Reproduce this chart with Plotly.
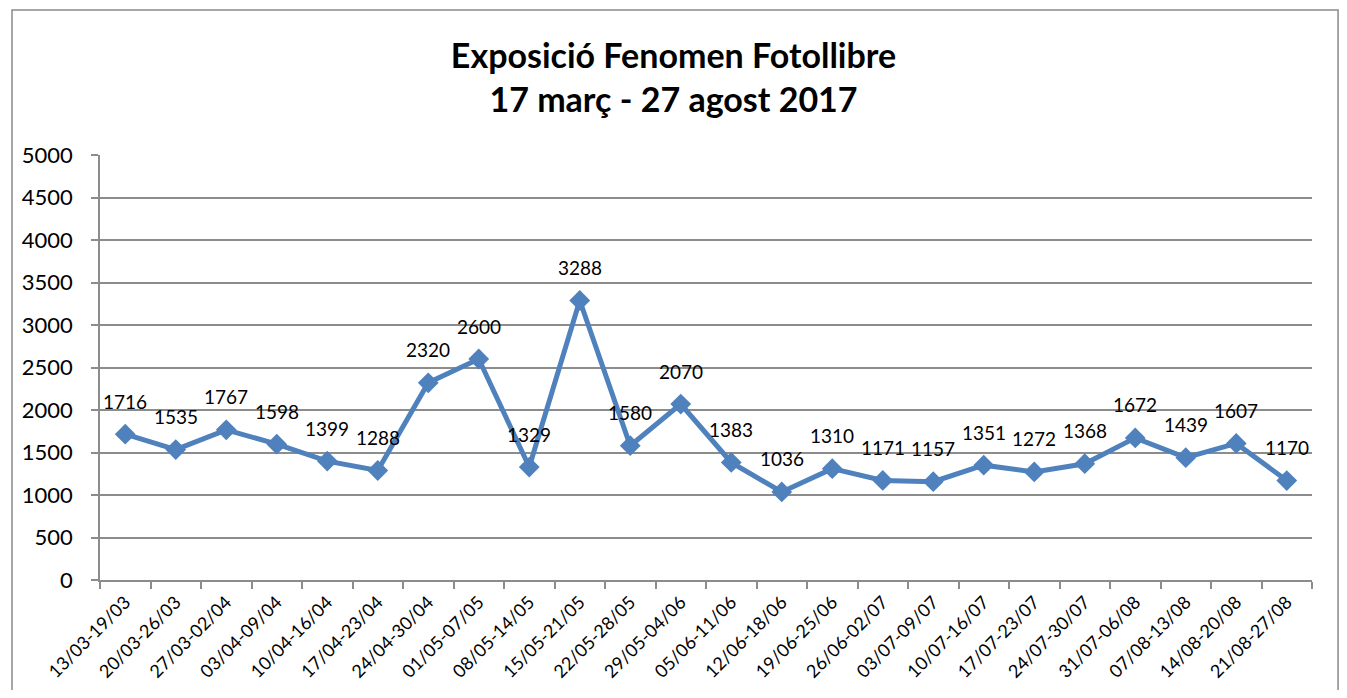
import plotly.graph_objects as go

WEEKS = ['13/03-19/03', '20/03-26/03', '27/03-02/04', '03/04-09/04', '10/04-16/04',
         '17/04-23/04', '24/04-30/04', '01/05-07/05', '08/05-14/05', '15/05-21/05',
         '22/05-28/05', '29/05-04/06', '05/06-11/06', '12/06-18/06', '19/06-25/06',
         '26/06-02/07', '03/07-09/07', '10/07-16/07', '17/07-23/07', '24/07-30/07',
         '31/07-06/08', '07/08-13/08', '14/08-20/08', '21/08-27/08']
VISITORS = [1716, 1535, 1767, 1598, 1399, 1288, 2320, 2600, 1329, 3288, 1580, 2070,
            1383, 1036, 1310, 1171, 1157, 1351, 1272, 1368, 1672, 1439, 1607, 1170]

FONT = 'Lato, Open Sans, sans-serif'
BLUE = '#4F81BD'
GRID = '#8c8c8c'

fig = go.Figure()
fig.add_trace(go.Scatter(
    x=WEEKS, y=VISITORS, mode='lines+markers',
    line=dict(color=BLUE, width=5),
    marker=dict(symbol='diamond', size=16, color=BLUE),
    hoverinfo='x+y', showlegend=False
))

# data labels sitting above each point, like Excel's "above"
for w, v in zip(WEEKS, VISITORS):
    fig.add_annotation(x=w, y=v, text=str(v), showarrow=False, yshift=33,
                       font=dict(family=FONT, size=19, color='black'))

# outer chart frame
fig.add_shape(type='rect', xref='paper', yref='paper',
              x0=-0.0726, x1=1.0215, y0=-0.3, y1=1.341,
              line=dict(color='#8a8a8a', width=1.5), fillcolor='rgba(0,0,0,0)', layer='below')

fig.update_layout(
    width=1331, height=682,
    margin=dict(l=92, r=27, t=147, b=110),
    paper_bgcolor='white', plot_bgcolor='white',
    title=dict(text='<b>Exposició Fenomen Fotollibre<br>17 març - 27 agost 2017</b>',
               x=0.5, xanchor='center', y=0.912, yanchor='top',
               font=dict(family=FONT, size=34, color='black')),
    xaxis=dict(
        type='category', tickson='boundaries', ticks='outside', ticklen=7,
        tickcolor=GRID, tickwidth=1.5, tickangle=-45, automargin=False,
        ticklabelstandoff=3,
        showline=True, linecolor=GRID, linewidth=1.5, showgrid=False,
        tickfont=dict(family=FONT, size=18, color='black'),
        range=[-0.5, 23.5]
    ),
    yaxis=dict(
        range=[0, 5000], dtick=500, tick0=0, ticks='outside', ticklen=7,
        tickcolor=GRID, tickwidth=1.5, automargin=False,
        showline=True, linecolor=GRID, linewidth=1.5,
        showgrid=True, gridcolor=GRID, gridwidth=1.5, zeroline=False,
        ticklabelstandoff=14,
        tickfont=dict(family=FONT, size=22, color='black')
    ),
    font=dict(family=FONT)
)

fig.write_html('out.html')
